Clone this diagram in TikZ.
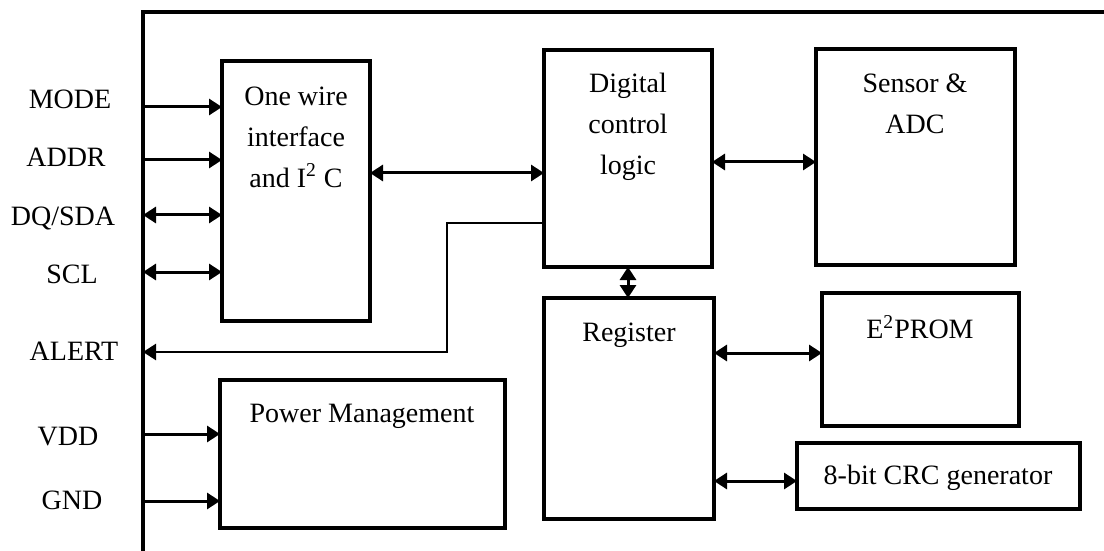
\documentclass[tikz,border=0pt]{standalone}
\usepackage{fontspec}
\setmainfont{Liberation Serif}
\usetikzlibrary{arrows.meta,fit}
\begin{document}
\begin{tikzpicture}[x=0.5pt,y=-0.5pt,
  box/.style={draw,line width=2pt,inner sep=0pt,outer sep=0pt},
  txt/.style={font=\fontsize{14pt}{20.5pt}\selectfont,align=center,inner sep=0pt},
  pin/.style={font=\fontsize{14pt}{17pt}\selectfont,inner sep=0pt,anchor=base},
  wire/.style={line width=1.5pt},
  tip/.style={wire,-{Triangle[length=6.5pt,width=8pt]}},
  dtip/.style={wire,{Triangle[length=6.5pt,width=8pt]}-{Triangle[length=6.5pt,width=8pt]}},
]
\useasboundingbox (0,0) rectangle (1104,551);

% chip outline
\coordinate (ftl) at (143,12);
\coordinate (ftr) at (1104,12);
\coordinate (fbl) at (143,551);
\draw[line width=1.6pt] (ftr) -- (ftl) -- (fbl);

% blocks
\node[box,fit={(222,61) (370,321)}] (ow) {};
\node[box,fit={(544,50) (712,267)}] (dig) {};
\node[box,fit={(816,49) (1015,265)}] (sen) {};
\node[box,fit={(544,298) (714,519)}] (reg) {};
\node[box,fit={(822,293) (1019,426)}] (eep) {};
\node[box,fit={(797,443) (1080,509)}] (crc) {};
\node[box,fit={(220,380) (505,528)}] (pwr) {};

% block texts
\node[txt] (owt) at (296,137) {One wire\\interface\\and I\textsuperscript{2} C};
\node[txt] (digt) at (628,127) {Digital\\control\\logic};
\node[txt] (sent) at (915,104) {Sensor \&\\ADC};
\node[txt] (regt) at (629,335) {Register};
\node[txt] (eept) at (920,327) {E\textsuperscript{2}PROM};
\node[txt] (crct) at (938,478) {8-bit CRC generator};
\node[txt] (pwrt) at (362,416) {Power Management};

% pin labels
\node[pin] (lmode) at (70,109) {MODE};
\node[pin] (laddr) at (66,167) {ADDR};
\node[pin] (lsda) at (63,226) {DQ/SDA};
\node[pin] (lscl) at (72,283) {SCL};
\node[pin] (lalert) at (74,360) {ALERT};
\node[pin] (lvdd) at (68,445) {VDD};
\node[pin] (lgnd) at (72,509) {GND};

% pin connectors
\draw[tip] (ftl |- 0,107) -- (ow.west |- 0,107);
\draw[tip] (ftl |- 0,160) -- (ow.west |- 0,160);
\draw[dtip] (ftl |- 0,215) -- (ow.west |- 0,215);
\draw[dtip] (ftl |- 0,272) -- (ow.west |- 0,272);
\draw[tip] (ftl |- 0,434) -- (pwr.west |- 0,434);
\draw[tip] (ftl |- 0,501) -- (pwr.west |- 0,501);

% alert
\coordinate (abend) at (447,223);
\draw[tip,line width=1.25pt] (dig.west |- abend) -- (abend) -- (abend |- 0,352) -- (ftl |- 0,352);

% internal connectors
\draw[dtip] (ow.east |- 0,173) -- (dig.west |- 0,173);
\draw[dtip] (dig.east |- 0,162) -- (sen.west |- 0,162);
\draw[dtip] (dig.south) -- (dig.south |- reg.north);
\draw[dtip] (reg.east |- 0,353) -- (eep.west |- 0,353);
\draw[dtip] (reg.east |- 0,481) -- (crc.west |- 0,481);
\end{tikzpicture}
\end{document}
